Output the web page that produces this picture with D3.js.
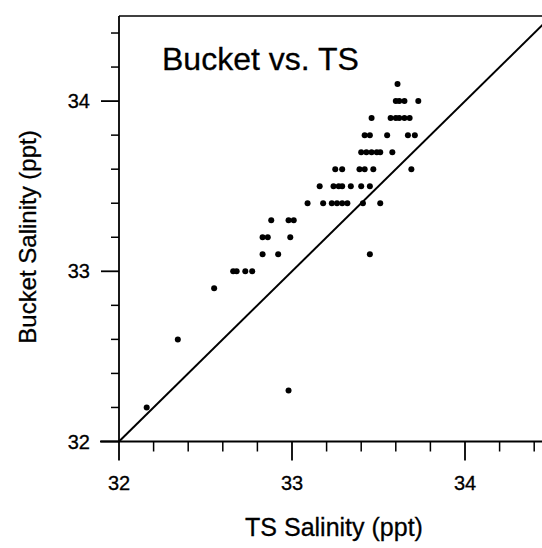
<!DOCTYPE html>
<html>
<head>
<meta charset="utf-8">
<script src="https://cdn.jsdelivr.net/npm/d3@7"></script>
<style>
  html, body { margin: 0; padding: 0; background: #fff; }
  svg { display: block; }
  text { font-family: "Liberation Sans", Arial, sans-serif; fill: #000; stroke: #000; stroke-width: 0.3px; }
</style>
</head>
<body>
<svg id="chart" width="542" height="548"></svg>
<script>
// Bucket salinity levels (rows) and the TS salinity values of the points on each row
const bucketLevels = [34.1, 34.0, 33.9, 33.8, 33.7, 33.6, 33.5, 33.4, 33.3, 33.2, 33.1, 33.0, 32.9, 32.6, 32.3, 32.2];
const tsByLevel = [
  [33.61],
  [33.60, 33.62, 33.65, 33.73],
  [33.46, 33.57, 33.60, 33.62, 33.65, 33.68],
  [33.42, 33.45, 33.55, 33.67, 33.71],
  [33.40, 33.43, 33.46, 33.49, 33.51, 33.58],
  [33.25, 33.29, 33.39, 33.42, 33.47, 33.69],
  [33.16, 33.24, 33.27, 33.29, 33.34, 33.40, 33.45],
  [33.09, 33.18, 33.23, 33.26, 33.29, 33.32, 33.41, 33.51],
  [32.88, 32.98, 33.01],
  [32.83, 32.86, 32.99],
  [32.83, 32.92, 33.45],
  [32.66, 32.68, 32.73, 32.77],
  [32.55],
  [32.34],
  [32.98],
  [32.16]
];
const majorTicks = [32, 33, 34];
const minorTicks = [32.2, 32.4, 32.6, 32.8, 33.2, 33.4, 33.6, 33.8, 34.2, 34.4];
const domain = [32, 34.5];
const titleText = "Bucket vs. TS";
const xLabel = "TS Salinity (ppt)";
const yLabel = "Bucket Salinity (ppt)";

const points = [];
bucketLevels.forEach((b, i) => tsByLevel[i].forEach(t => points.push({ ts: t, bucket: b })));

const svg = d3.select("#chart");
const x = d3.scaleLinear().domain(domain).range([119, 551.5]);
const y = d3.scaleLinear().domain(domain).range([441.5, 16]);

const stroke = "#000";

// frame: top line
svg.append("line")
  .attr("x1", x(32)).attr("x2", 560)
  .attr("y1", y(34.5)).attr("y2", y(34.5))
  .attr("stroke", stroke).attr("stroke-width", 1.5);

// y axis line
svg.append("line")
  .attr("x1", x(32)).attr("x2", x(32))
  .attr("y1", y(34.5)).attr("y2", y(32))
  .attr("stroke", stroke).attr("stroke-width", 1.8);

// x axis line (extends a bit left of the y axis)
svg.append("line")
  .attr("x1", 100).attr("x2", 560)
  .attr("y1", y(32)).attr("y2", y(32))
  .attr("stroke", stroke).attr("stroke-width", 1.8);

// x ticks
svg.append("g").selectAll("line.xmaj").data(majorTicks).join("line")
  .attr("x1", d => x(d)).attr("x2", d => x(d))
  .attr("y1", y(32)).attr("y2", y(32) + 19)
  .attr("stroke", stroke).attr("stroke-width", 1.8);
svg.append("g").selectAll("line.xmin").data(minorTicks).join("line")
  .attr("x1", d => x(d)).attr("x2", d => x(d))
  .attr("y1", y(32)).attr("y2", y(32) + 10)
  .attr("stroke", stroke).attr("stroke-width", 1.5);

// y ticks
svg.append("g").selectAll("line.ymaj").data(majorTicks).join("line")
  .attr("x1", x(32) - 18).attr("x2", x(32))
  .attr("y1", d => y(d)).attr("y2", d => y(d))
  .attr("stroke", stroke).attr("stroke-width", 1.8);
svg.append("g").selectAll("line.ymin").data(minorTicks).join("line")
  .attr("x1", x(32) - 8).attr("x2", x(32))
  .attr("y1", d => y(d)).attr("y2", d => y(d))
  .attr("stroke", stroke).attr("stroke-width", 1.5);

// tick labels
svg.append("g").selectAll("text.xl").data(majorTicks).join("text")
  .attr("x", d => x(d)).attr("y", 490)
  .attr("text-anchor", "middle")
  .attr("font-size", 20)
  .text(d => d);
svg.append("g").selectAll("text.yl").data(majorTicks).join("text")
  .attr("x", 90).attr("y", d => y(d))
  .attr("dy", "0.35em")
  .attr("text-anchor", "end")
  .attr("font-size", 20)
  .text(d => d);

// 1:1 line
svg.append("line")
  .attr("x1", x(domain[0])).attr("y1", y(domain[0]))
  .attr("x2", x(domain[1])).attr("y2", y(domain[1]))
  .attr("stroke", stroke).attr("stroke-width", 2);

// points
svg.append("g").selectAll("circle").data(points).join("circle")
  .attr("cx", d => x(d.ts))
  .attr("cy", d => y(d.bucket))
  .attr("r", 3)
  .attr("fill", "#000");

// title
svg.append("text")
  .attr("x", 162).attr("y", 70)
  .attr("font-size", 32)
  .text(titleText);

// axis titles
svg.append("text")
  .attr("x", 334).attr("y", 536)
  .attr("text-anchor", "middle")
  .attr("font-size", 25)
  .text(xLabel);
svg.append("text")
  .attr("transform", "translate(36,237) rotate(-90)")
  .attr("text-anchor", "middle")
  .attr("font-size", 24)
  .text(yLabel);
</script>
</body>
</html>
